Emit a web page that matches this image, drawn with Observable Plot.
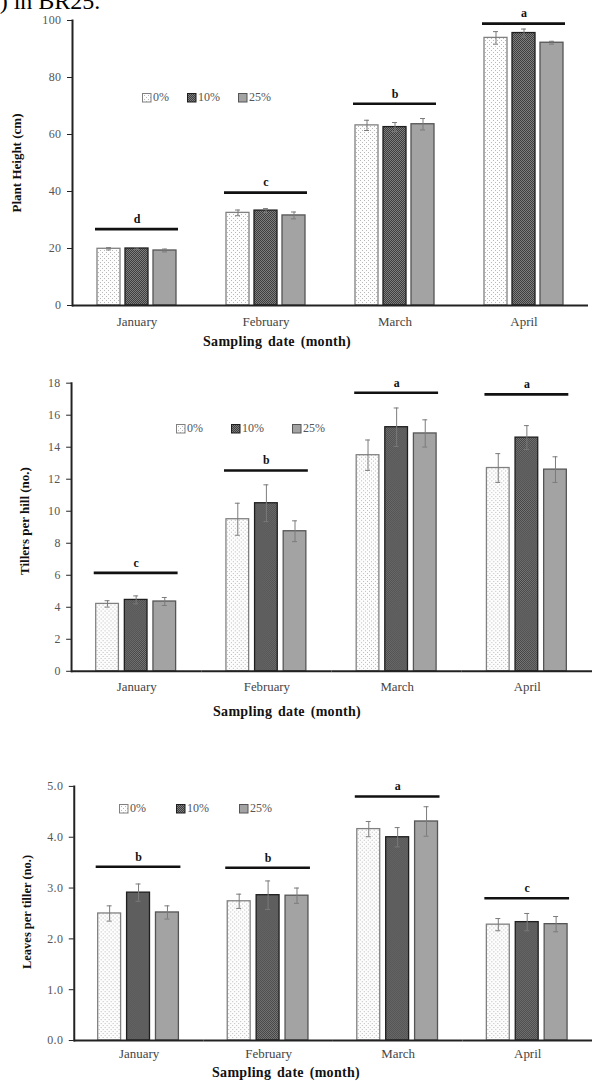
<!DOCTYPE html>
<html>
<head>
<meta charset="utf-8">
<script src="https://cdn.jsdelivr.net/npm/d3@7"></script>
<script src="https://cdn.jsdelivr.net/npm/@observablehq/plot@0.6"></script>
<style>
html, body { margin: 0; padding: 0; background: #fff; overflow: hidden; }
#root { position: relative; width: 592px; height: 1081px; overflow: hidden; font-family: "Liberation Serif", "DejaVu Serif", serif; }
.panel { position: absolute; left: 0; }
.legend { position: absolute; display: flex; align-items: center; font-size: 12px; color: #555; z-index: 2; white-space: nowrap; }
.legend .item { display: flex; align-items: center; }
.legend svg { margin-right: 1px; }
.ytitle { position: absolute; font-weight: bold; font-size: 13px; color: #111; white-space: nowrap; transform: translate(-50%, -50%) rotate(-90deg); z-index: 2; }
.xtitle { position: absolute; font-weight: bold; font-size: 14px; color: #111; white-space: nowrap; transform: translate(-50%, -50%); word-spacing: 2px; letter-spacing: 0.3px; z-index: 2; }
.toptext { position: absolute; left: -11px; top: -7px; font-size: 24px; line-height: 16px; height: 16px; color: #000; white-space: nowrap; }
svg [aria-label="y-axis tick label"] text, svg [aria-label="y-axis tick label"] { fill: #555; letter-spacing: 0.4px; }
svg [aria-label="fx-axis tick label"] text, svg [aria-label="fx-axis tick label"] { fill: #444; }
</style>
</head>
<body>
<svg width="0" height="0" style="position:absolute">
  <defs>
    <pattern id="pDots" width="4" height="4" patternUnits="userSpaceOnUse">
      <rect width="4" height="4" fill="#fdfdfd"/>
      <rect x="0" y="0" width="1" height="1" fill="#b8b8b8"/>
      <rect x="2" y="2" width="1" height="1" fill="#b8b8b8"/>
    </pattern>
    <pattern id="pDark" width="2" height="2" patternUnits="userSpaceOnUse">
      <rect width="2" height="2" fill="#3e3e3e"/>
      <rect x="0" y="0" width="1" height="1" fill="#7e7e7e"/>
      <rect x="1" y="1" width="1" height="1" fill="#7e7e7e"/>
    </pattern>
  </defs>
</svg>
<div id="root">
  <div class="toptext">e) in BR25.</div>
</div>
<script>
// ---------- data ----------
const months = ["January", "February", "March", "April"];
const series = ["0%", "10%", "25%"];

// Panel 1: Plant Height (cm)
const heightVals = [[19.9, 20.0, 19.3], [32.5, 33.3, 31.6], [63.2, 62.6, 63.6], [93.9, 95.6, 92.2]];
const heightErr  = [[0.4, 0.3, 0.5], [1.0, 0.7, 1.2], [1.8, 1.6, 2.0], [2.2, 1.4, 0.5]];
const heightSigY = [26.8, 39.6, 70.8, 98.9];
const heightSigLetters = ["d", "c", "b", "a"];
const heightTicks = [0, 20, 40, 60, 80, 100];

// Panel 2: Tillers per hill (no.)
const tillerVals = [[4.21, 4.46, 4.36], [9.5, 10.5, 8.75], [13.5, 15.25, 14.86], [12.7, 14.6, 12.6]];
const tillerErr  = [[0.2, 0.25, 0.25], [1.0, 1.15, 0.65], [0.95, 1.2, 0.85], [0.9, 0.75, 0.8]];
const tillerSigY = [6.15, 12.55, 17.4, 17.3];
const tillerSigLetters = ["c", "b", "a", "a"];
const tillerTicks = [0, 2, 4, 6, 8, 10, 12, 14, 16, 18];

// Panel 3: Leaves per tiller (no.)
const leafVals = [[2.50, 2.91, 2.52], [2.74, 2.86, 2.85], [4.16, 4.00, 4.31], [2.28, 2.33, 2.29]];
const leafErr  = [[0.15, 0.17, 0.13], [0.14, 0.28, 0.15], [0.15, 0.19, 0.29], [0.12, 0.17, 0.15]];
const leafSigY = [3.42, 3.40, 4.80, 2.80];
const leafSigLetters = ["b", "b", "a", "c"];
const leafTicks = [0, 1, 2, 3, 4, 5];

const xTitle = "Sampling date (month)";

// ---------- styles ----------
const fills = ["url(#pDots)", "url(#pDark)", "#a3a3a3"];
const strokes = ["#808080", "#1e1e1e", "#555"];

function rows(vals, errs) {
  const out = [];
  months.forEach((m, i) => series.forEach((s, j) => out.push({month: m, series: s, value: vals[i][j], err: errs[i][j]})));
  return out;
}
function sigRows(ys, letters) {
  return months.map((m, i) => ({month: m, y: ys[i], letter: letters[i]}));
}

function panel(o) {
  const data = rows(o.vals, o.errs);
  const sig = sigRows(o.sigY, o.letters);
  const marks = [];
  series.forEach((s, j) => {
    marks.push(Plot.barY(data.filter(d => d.series === s), {
      fx: "month", x: "series", y: "value", fill: fills[j], stroke: strokes[j], strokeWidth: 1.3
    }));
  });
  marks.push(
    Plot.ruleX(data, {fx: "month", x: "series", y1: d => d.value - d.err, y2: d => d.value + d.err, stroke: "#7a7a7a", strokeWidth: 1}),
    Plot.tickY(data, {fx: "month", x: "series", y: d => d.value + d.err, stroke: "#7a7a7a", strokeWidth: 1, inset: 9}),
    Plot.tickY(data, {fx: "month", x: "series", y: d => d.value - d.err, stroke: "#7a7a7a", strokeWidth: 1, inset: 9}),
    Plot.ruleY(sig, {fx: "month", x1: () => series[0], x2: () => series[2], y: "y", stroke: "#111", strokeWidth: 2.6, insetLeft: -2, insetRight: -2}),
    Plot.text(sig, {fx: "month", x: () => series[1], y: "y", text: "letter", dy: -10, fontWeight: "bold", fontSize: 12, fill: "#111"}),
    Plot.ruleY([0], {stroke: "#222", strokeWidth: 2}),
    Plot.frame({anchor: "left", facetAnchor: "left", stroke: "#222", strokeWidth: 2}),
    Plot.axisY({ticks: o.ticks, tickFormat: o.tickFormat, tickSize: 5, tickPadding: 6, label: null, fontSize: 12, stroke: "#222"}),
    Plot.axisFx({anchor: "bottom", tickSize: 0, tickPadding: o.fxPad, label: null, fontSize: 13})
  );
  const chart = Plot.plot({
    width: o.width, height: o.height,
    marginLeft: o.ml, marginRight: o.mr, marginTop: o.mt, marginBottom: o.mb,
    style: {fontFamily: "'Liberation Serif', serif", color: "#222", background: "transparent", overflow: "visible"},
    fx: {domain: months, padding: 0},
    x: {domain: series, paddingInner: 0.19, paddingOuter: 0.83, axis: null},
    y: {domain: o.yDomain, axis: null},
    marks
  });
  chart.classList.add("panel");
  chart.style.top = o.top + "px";
  return chart;
}

function legend(top, left, gap) {
  const div = document.createElement("div");
  div.className = "legend";
  div.style.top = (top - 7) + "px";
  div.style.left = left + "px";
  div.style.gap = gap + "px";
  series.forEach((s, j) => {
    const item = document.createElement("span");
    item.className = "item";
    item.innerHTML = `<svg width="10" height="10"><rect x="0.5" y="0.5" width="8.5" height="8.5" fill="${fills[j]}" stroke="${strokes[j]}" stroke-width="1"/></svg><span>${s}</span>`;
    div.appendChild(item);
  });
  return div;
}

function title(cls, text, x, y, size) {
  const d = document.createElement("div");
  d.className = cls;
  d.textContent = text;
  d.style.left = x + "px";
  d.style.top = y + "px";
  if (size) d.style.fontSize = size + "px";
  return d;
}

const root = document.getElementById("root");

root.appendChild(panel({
  vals: heightVals, errs: heightErr, sigY: heightSigY, letters: heightSigLetters,
  ticks: heightTicks, tickFormat: d => d, yDomain: [0, 100],
  width: 592, height: 350, ml: 70, mr: 3, mt: 20, mb: 45, top: 0, fxPad: 11
}));
root.appendChild(panel({
  vals: tillerVals, errs: tillerErr, sigY: tillerSigY, letters: tillerSigLetters,
  ticks: tillerTicks, tickFormat: d => d, yDomain: [0, 18],
  width: 600, height: 360, ml: 72, mr: 0, mt: 23, mb: 45, top: 360, fxPad: 11
}));
root.appendChild(panel({
  vals: leafVals, errs: leafErr, sigY: leafSigY, letters: leafSigLetters,
  ticks: leafTicks, tickFormat: d3.format(".1f"), yDomain: [0, 5],
  width: 594, height: 321, ml: 73, mr: 0, mt: 26, mb: 40, top: 760, fxPad: 8
}));

root.appendChild(legend(97, 142, 18));
root.appendChild(legend(428, 176, 28));
root.appendChild(legend(808, 119, 30));

root.appendChild(title("ytitle", "Plant Height (cm)", 17, 163));
root.appendChild(title("ytitle", "Tillers per hill (no.)", 25, 521));
root.appendChild(title("ytitle", "Leaves per tiller (no.)", 27, 912, 12.5));

root.appendChild(title("xtitle", xTitle, 277, 342));
root.appendChild(title("xtitle", xTitle, 287, 712));
root.appendChild(title("xtitle", xTitle, 286, 1073));
</script>
</body>
</html>
